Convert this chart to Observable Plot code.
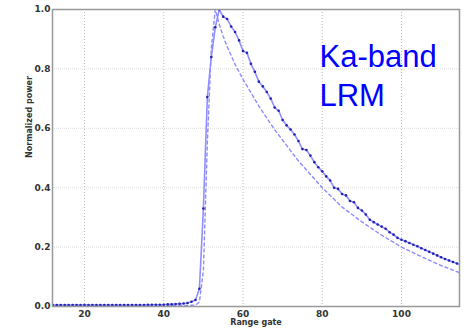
<!DOCTYPE html>
<html>
<head>
<meta charset="utf-8">
<script src="https://cdn.jsdelivr.net/npm/d3@7"></script>
<script src="https://cdn.jsdelivr.net/npm/@observablehq/plot@0.6"></script>
<style>
  html, body { margin: 0; padding: 0; background: #fff; }
  #chart svg { display: block; }
</style>
</head>
<body>
<div id="chart"></div>
<script>
// Measured waveform (range gate -> normalized power)
const gates = d3.range(12, 116);
const measured = [
  0.005, 0.005, 0.005, 0.005, 0.005, 0.005, 0.005, 0.005, 0.005, 0.005, // 12-21
  0.005, 0.005, 0.005, 0.005, 0.005, 0.005, 0.005, 0.005, 0.005, 0.005, // 22-31
  0.005, 0.005, 0.005, 0.005, 0.006, 0.006, 0.006, 0.006, 0.006, 0.007, // 32-41
  0.007, 0.008, 0.009, 0.010, 0.012, 0.016, 0.022, 0.06, 0.33, 0.705,   // 42-51
  0.84, 0.94, 1.0, 0.976, 0.968, 0.943, 0.924, 0.896, 0.86, 0.854,       // 52-61
  0.817, 0.79, 0.757, 0.741, 0.722, 0.70, 0.67, 0.659, 0.628, 0.61,      // 62-71
  0.596, 0.579, 0.557, 0.53, 0.527, 0.508, 0.486, 0.469, 0.455, 0.438,   // 72-81
  0.424, 0.40, 0.396, 0.379, 0.374, 0.355, 0.351, 0.332, 0.323, 0.31,    // 82-91
  0.292, 0.284, 0.276, 0.269, 0.262, 0.25, 0.242, 0.231, 0.225, 0.22,    // 92-101
  0.214, 0.208, 0.203, 0.196, 0.19, 0.184, 0.178, 0.172, 0.166, 0.16,    // 102-111
  0.155, 0.15, 0.145, 0.14                                               // 112-115
];

// Model waveform (dashed)
const modelGates = [12, 30, 47, 48, 49, 50, 51, 52, 53, 54, 55, 56, 57, 58, 59, 60, 62, 64, 66, 68, 70, 72, 74, 76, 78, 80, 85, 90, 95, 100, 105, 110, 115];
const modelPower = [0.003, 0.003, 0.004, 0.005, 0.015, 0.12, 0.55, 0.87, 1.0, 0.95, 0.91, 0.875, 0.845, 0.815, 0.79, 0.765, 0.72, 0.675, 0.635, 0.595, 0.56, 0.525, 0.49, 0.46, 0.43, 0.40, 0.335, 0.285, 0.24, 0.20, 0.168, 0.138, 0.112];

const xTicks = [20, 40, 60, 80, 100];
const yTicks = [0, 0.2, 0.4, 0.6, 0.8, 1.0];

const meas = gates.map((g, i) => ({gate: g, power: measured[i]}));
const model = modelGates.map((g, i) => ({gate: g, power: modelPower[i]}));

const tickFont = {fontFamily: "DejaVu Sans", fontWeight: "bold", fontSize: 9, fill: "#333"};

const chart = Plot.plot({
  width: 466,
  height: 329,
  marginLeft: 52,
  marginRight: 7,
  marginTop: 9,
  marginBottom: 23,
  style: {fontFamily: "DejaVu Sans", background: "#fff", overflow: "visible"},
  x: {domain: [11.92, 114.64], ticks: xTicks},
  y: {domain: [0, 1], ticks: yTicks},
  marks: [
    Plot.gridX(xTicks, {stroke: "#bbb", strokeOpacity: 1, strokeDasharray: "1,2"}),
    Plot.gridY(yTicks.slice(1, 5), {stroke: "#ddd", strokeOpacity: 1, strokeDasharray: "1,1"}),
    Plot.line(model, {x: "gate", y: "power", stroke: "#8c8cff", strokeWidth: 1.4, strokeDasharray: "3,3", clip: true}),
    Plot.line(meas, {x: "gate", y: "power", stroke: "#8f8fff", strokeWidth: 1.6, clip: true}),
    Plot.dot(meas, {x: "gate", y: "power", r: 1.3, fill: "#2323b0", stroke: null, clip: true}),
    Plot.frame({stroke: "#999", strokeWidth: 1.5}),
    Plot.axisX(xTicks, {tickSize: 0, tickPadding: 4, label: null, ...tickFont}),
    Plot.axisY(yTicks, {tickSize: 0, tickPadding: 2, label: null, tickFormat: d3.format(".1f"), ...tickFont}),
    Plot.text(["Range gate"], {frameAnchor: "bottom", dy: 16, lineAnchor: "middle", fontFamily: "DejaVu Sans", fontWeight: "bold", fontSize: 8, fill: "#333"}),
    Plot.text(["Normalized power"], {frameAnchor: "left", dx: -23, rotate: -90, lineAnchor: "middle", fontFamily: "DejaVu Sans", fontWeight: "bold", fontSize: 8, fill: "#333"}),
    Plot.text(["Ka-band\nLRM"], {x: 79.3, y: 0.901, textAnchor: "start", lineAnchor: "top", lineHeight: 1.26, fontFamily: "Liberation Sans", fontSize: 31, fill: "#0000ff"})
  ]
});

document.getElementById("chart").append(chart);
</script>
</body>
</html>
